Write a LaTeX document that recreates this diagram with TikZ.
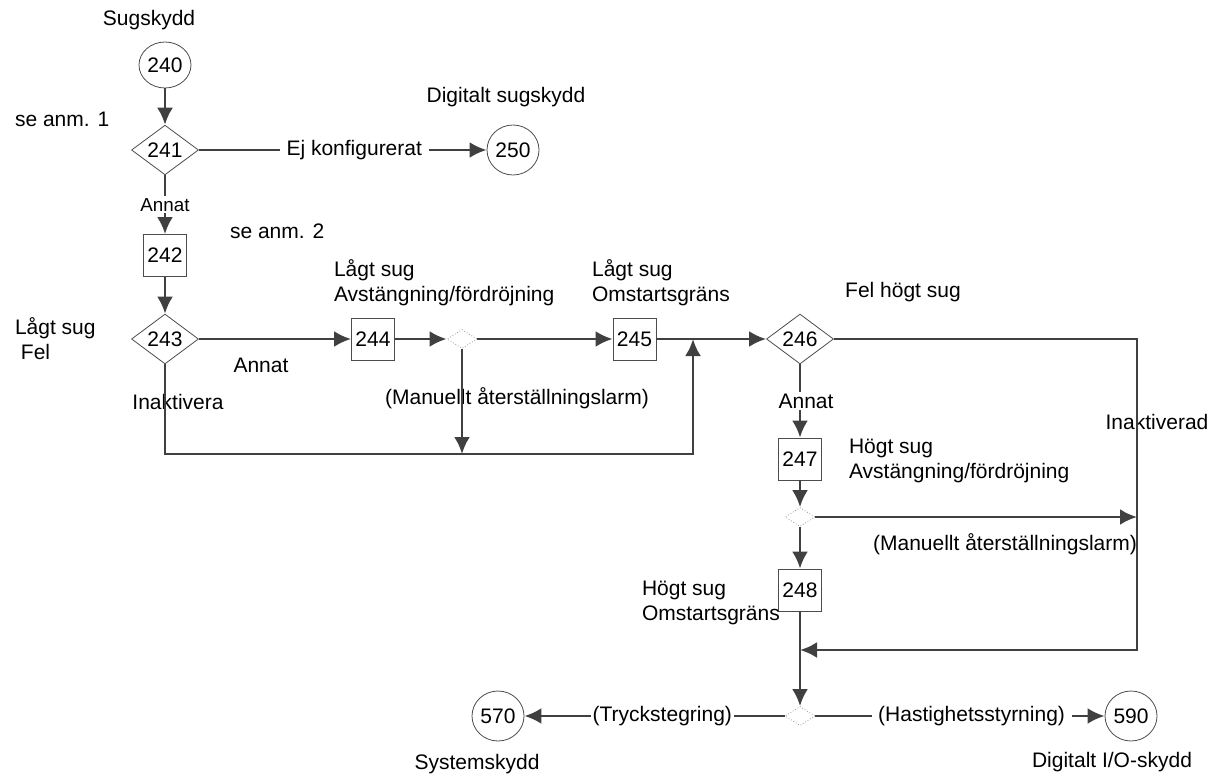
\documentclass[tikz,border=0pt]{standalone}
\usepackage{fontspec}
\setmainfont{Liberation Sans}
\usetikzlibrary{shapes.geometric,arrows.meta}

\begin{document}
\begin{tikzpicture}[
        x=0.5pt, y=-0.5pt,
        font=\fontsize{10.5}{12.5}\selectfont,
        cirkel/.style={ellipse, draw=black!70, thin, minimum width=26pt, minimum height=25pt, inner sep=0pt},
        ruta/.style={rectangle, draw=black!70, thin, minimum width=21.5pt, minimum height=21pt, inner sep=0pt},
        romb/.style={diamond, draw=black!70, thin, minimum width=33.5pt, minimum height=20.5pt, inner sep=0pt},
        val/.style={diamond, draw=black!40, densely dotted, thin, minimum width=15pt, minimum height=9.5pt, inner sep=0pt},
        pil/.style={-{Latex[length=8.5pt,width=8pt]}, line width=1.4pt, draw=black!75},
        etikett/.style={anchor=west, align=left}
    ]
        \useasboundingbox (0,0) rectangle (1214,781);

        \node[cirkel, minimum height=23pt] (n240) at (165,65) {240};
        \node[romb] (n241) at (165,150) {241};
        \node[cirkel] (n250) at (513,150) {250};
        \node[ruta] (n242) at (165,255.5) {242};
        \node[romb] (n243) at (165,339) {243};
        \node[ruta] (n244) at (373,339) {244};
        \node[val] (v1) at (462,339) {};
        \node[ruta] (n245) at (634.5,339) {245};
        \node[romb] (n246) at (800,339) {246};
        \node[ruta] (n247) at (800,459) {247};
        \node[val] (v2) at (800,517) {};
        \node[ruta] (n248) at (800,590) {248};
        \node[val] (v3) at (800,716) {};
        \node[cirkel] (n570) at (498,716) {570};
        \node[cirkel] (n590) at (1131,716) {590};

        \coordinate (k1) at (693,339);
        \coordinate (k2) at (462,454);
        \coordinate (k3) at (800,650);
        \coordinate (k4) at (1137,517);

        \node (tSug) at (149,20) {Sugskydd};
        \node (tDig) at (506,97) {Digitalt sugskydd};
        \node[etikett] (tAnm1) at (8,119) {se anm. 1};
        \node[etikett] (tAnm2) at (223,231) {se anm. 2};
        \node[etikett] (tFel) at (8,339) {Lågt sug\\\hspace*{0.28em}Fel};
        \node[etikett] (tAvst) at (327,283) {Lågt sug\\Avstängning/fördröjning};
        \node[etikett] (tOmst) at (585,283) {Lågt sug\\Omstartsgräns};
        \node (tFelH) at (903,292) {Fel högt sug};
        \node (tAnnat) at (261,365) {Annat};
        \node (tInakt) at (178,402) {Inaktivera};
        \node (tManL) at (517,398) {(Manuellt återställningslarm)};
        \node[etikett] (tAvstH) at (842,461) {Högt sug\\Avstängning/fördröjning};
        \node (tInaktd) at (1157,422) {Inaktiverad};
        \node (tManH) at (1005,544) {(Manuellt återställningslarm)};
        \node[etikett] (tOmstH) at (635,603) {Högt sug\\Omstartsgräns};
        \node (tSys) at (477,764) {Systemskydd};
        \node (tDio) at (1112,762) {Digitalt I/O-skydd};

        \draw[pil] (n240) -- (n241);
        \draw[pil] (n241) -- node[fill=white, pos=0.54] {Ej konfigurerat} (n250);
        \draw[pil] (n241) -- node[fill=white, inner sep=1pt, font=\fontsize{9.4}{11}\selectfont] {Annat} (n242);
        \draw[pil] (n242) -- (n243);
        \draw[pil] (n243) -- (n244);
        \draw[pil] (n244) -- (v1);
        \draw[pil] (v1) -- (n245);
        \draw[pil] (n245) -- (n246);
        \draw[pil] (n243.south) |- (k1 |- k2) -- (k1);
        \draw[pil] (v1) -- (k2);
        \draw[pil] (n246) -- node[fill=white, inner sep=1pt, xshift=3pt] {Annat} (n247);
        \draw[pil] (n247) -- (v2);
        \draw[pil] (v2) -- (k4);
        \draw[pil] (v2) -- (n248);
        \draw[pil] (n246.east) -| (k3 -| k4) -- (k3);
        \draw[pil] (n248) -- (v3);
        \draw[pil] (v3) -- node[fill=white, inner sep=1pt, pos=0.47] {(Tryckstegring)} (n570);
        \draw[pil] (v3) -- node[fill=white, pos=0.54] {(Hastighetsstyrning)} (n590);
    \end{tikzpicture}
\end{document}
